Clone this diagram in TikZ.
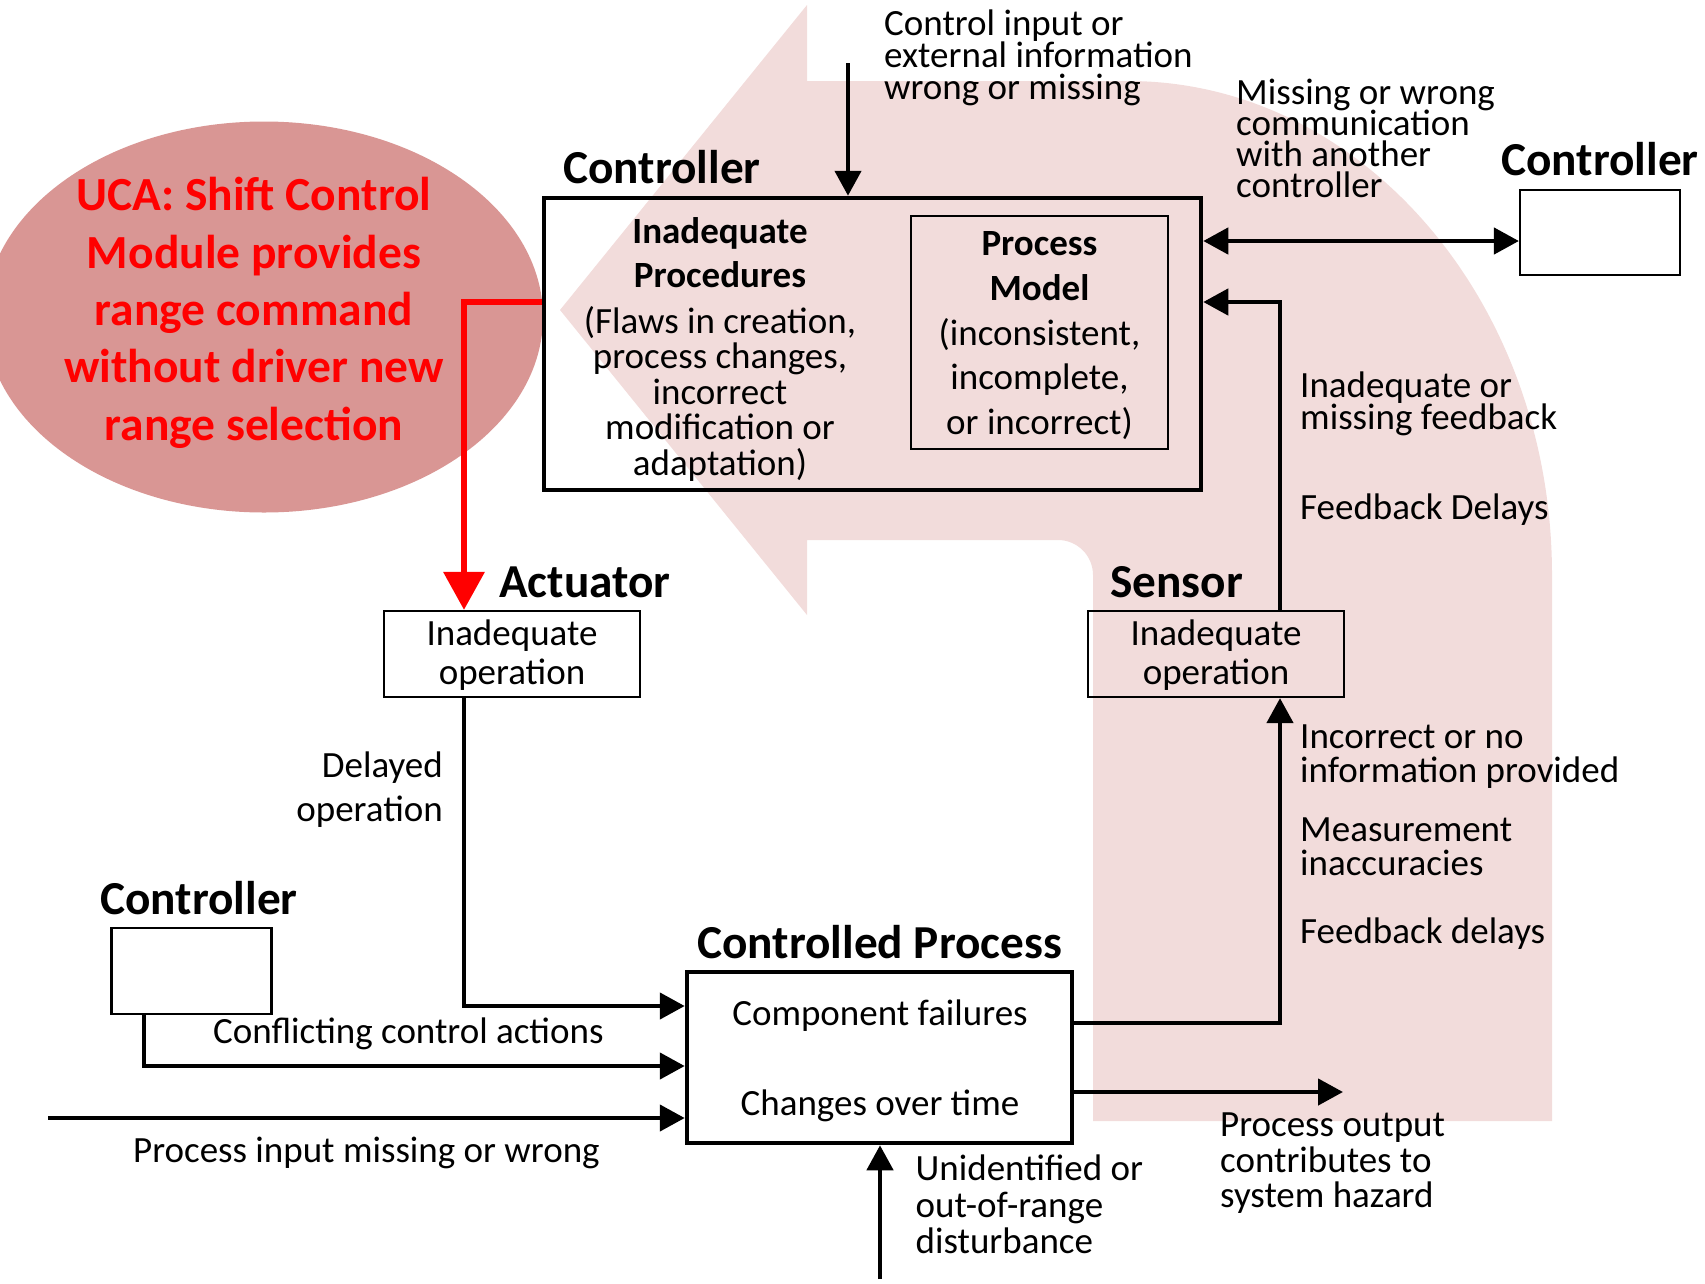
\documentclass[tikz,border=0pt]{standalone}
\usepackage{fontspec}
\setmainfont{Carlito}
\usetikzlibrary{arrows.meta}
\definecolor{loopfill}{HTML}{F2DCDB}
\definecolor{ucafill}{HTML}{D99694}
\definecolor{ucared}{HTML}{FF0000}
% zero-width strut that fixes the top of the first line of a text block
\newcommand\firstln{\rule{0pt}{0.8em}}
\newcommand\txtfont[1]{\fontsize{37}{#1}\selectfont}
\begin{document}
\lineskiplimit=-200pt
\begin{tikzpicture}[x=1pt,y=-1pt,
  thickbox/.style={draw=black, line width=4.5pt, inner sep=0pt},
  thinbox/.style={draw=black, line width=2.2pt, inner sep=0pt},
  flow/.style={draw=black, line width=4.5pt, -{Triangle[width=26pt,length=25pt]}},
  bothflow/.style={draw=black, line width=4.5pt, {Triangle[width=26pt,length=25pt]}-{Triangle[width=26pt,length=25pt]}},
  redflow/.style={draw=ucared, line width=6.5pt, -{Triangle[width=40pt,length=38pt]}},
  title/.style={inner sep=0pt, anchor=base west, font=\fontsize{47.3}{50}\selectfont\bfseries},
  label/.style={inner sep=0pt, font=\txtfont{37}},
  block/.style={inner sep=0pt, align=left, anchor=north west},
]
\clip (0,0) rectangle (1705,1283);

% large U-turn arrow in the background
\fill[loopfill] (560,310) -- (807,5) -- (807,81) -- (1128,81)
  .. controls (1362.2,81) and (1552,302.2) .. (1552,575)
  -- (1552,1121) -- (1093,1121) -- (1093,575)
  .. controls (1093,555.7) and (1077.3,540) .. (1058,540)
  -- (807,540) -- (807,615) -- cycle;

% unsafe control action bubble
\fill[ucafill] (264,317) ellipse [x radius=279pt, y radius=195.5pt];
\node[inner sep=0pt, anchor=north, align=center, text=ucared,
      font=\fontsize{47.5}{57.4}\selectfont\bfseries] (ucatext) at (254,172.5)
  {\firstln UCA: Shift Control\\Module provides\\range command\\without driver new\\range selection};

% boxes
\node[thickbox, minimum width=657, minimum height=292] (ctl) at (872.5,344) {};
\node[thinbox, minimum width=257, minimum height=233] (pm) at (1039.5,332.5) {};
\node[thinbox, minimum width=160, minimum height=85] (ctlR) at (1600,232.5) {};
\node[thinbox, minimum width=256, minimum height=86] (sen) at (1216,654) {};
\node[thinbox, minimum width=256, minimum height=86] (act) at (512,654) {};
\node[thinbox, minimum width=160, minimum height=86] (ctlL) at (191.5,971) {};
\node[thickbox, minimum width=385, minimum height=171] (cp) at (879.5,1057.5) {};

% box titles
\node[title] (ctlT) at (563,183) {Controller};
\node[title] (ctlRT) at (1501,175) {Controller};
\node[title] (ctlLT) at (100,914) {Controller};
\node[title] (actT) at (499,597) {Actuator};
\node[title] (senT) at (1110,597) {Sensor};
\node[title] (cpT) at (697,958.5) {Controlled Process};

% text inside the controller
\node[inner sep=0pt, anchor=north, align=center, font=\txtfont{44}\bfseries] (ipHead) at (720,213.7)
  {\firstln Inadequate\\Procedures};
\node[inner sep=0pt, anchor=north, align=center, font=\txtfont{35.5}] (ipBody) at (720,303.4)
  {\firstln (Flaws in creation,\\process changes,\\incorrect\\modification or\\adaptation)};
\node[inner sep=0pt, anchor=north, align=center, font=\txtfont{45}\bfseries] (pmHead) at (1039.5,225.4)
  {\firstln Process\\Model};
\node[inner sep=0pt, anchor=north, align=center, font=\txtfont{44.5}] (pmBody) at (1039.5,315.4)
  {\firstln (inconsistent,\\incomplete,\\or incorrect)};

% text inside sensor, actuator and controlled process
\node[inner sep=0pt, anchor=north, align=center, font=\txtfont{39}] (senTxt) at (1216,615.4)
  {\firstln Inadequate\\operation};
\node[inner sep=0pt, anchor=north, align=center, font=\txtfont{39}] (actTxt) at (512,615.4)
  {\firstln Inadequate\\operation};
\node[label, anchor=base] (cpA) at (880,1025) {Component failures};
\node[label, anchor=base] (cpB) at (880,1115) {Changes over time};

% connector labels
\node[block, font=\txtfont{32}] (cinTxt) at (884,5.3)
  {\firstln Control input or\\external information\\wrong or missing};
\node[block, font=\txtfont{31.2}] (commTxt) at (1236,74.4)
  {\firstln Missing or wrong\\communication\\with another\\controller};
\node[block, font=\txtfont{32.6}] (fbTxt) at (1300,367.4)
  {\firstln Inadequate or\\missing feedback};
\node[label, anchor=base west] (fbDelay) at (1300,519.5) {Feedback Delays};
\node[block, font=\txtfont{34.4}] (incTxt) at (1300,718.7)
  {\firstln Incorrect or no\\information provided};
\node[block, font=\txtfont{33.3}] (measTxt) at (1300,812.1)
  {\firstln Measurement\\inaccuracies};
\node[label, anchor=base west] (fbDelay2) at (1300,943.3) {Feedback delays};
\node[inner sep=0pt, anchor=north east, align=right, font=\txtfont{44.5}] (delTxt) at (443,747.4)
  {\firstln Delayed\\operation};
\node[label, anchor=base west] (confTxt) at (213,1043) {Conflicting control actions};
\node[label, anchor=base west] (inpTxt) at (133,1162) {Process input missing or wrong};
\node[block, font=\txtfont{35.3}] (outTxt) at (1220,1107.1)
  {\firstln Process output\\contributes to\\system hazard};
\node[block, font=\txtfont{36.8}] (distTxt) at (915.5,1150.5)
  {\firstln Unidentified or\\out-of-range\\disturbance};

% connector anchor points
\coordinate (cinStart) at (848,63);
\coordinate (fbCol) at (1280,302);
\coordinate (fbIn) at (1280,1023);
\coordinate (outEnd) at (1343,1092);
\coordinate (distStart) at (880,1279);
\coordinate (actCol) at (464,1006);
\coordinate (ctlLCol) at (144,1066);
\coordinate (inpStart) at (48,1118);
\coordinate (ucaCol) at (464,302);

% connectors
\draw[flow] (cinStart) -- (cinStart |- ctl.north);
\draw[bothflow] ([yshift=-8.5pt]ctlR.west) coordinate (dblEnd) -- (dblEnd -| ctl.east);
\draw[flow] (sen.north -| fbCol) |- (ctl.east |- fbCol);
\draw[flow] (cp.east |- fbIn) -| (sen.south -| fbIn);
\draw[flow] (cp.east |- outEnd) -- (outEnd);
\draw[flow] (distStart) -- (distStart |- cp.south);
\draw[flow] (act.south -| actCol) |- (cp.west |- actCol);
\draw[flow] (ctlL.south -| ctlLCol) |- (cp.west |- ctlLCol);
\draw[flow] (inpStart) -- (inpStart -| cp.west);
\draw[redflow] (ctl.west |- ucaCol) -| (act.north -| ucaCol);
\end{tikzpicture}
\end{document}
